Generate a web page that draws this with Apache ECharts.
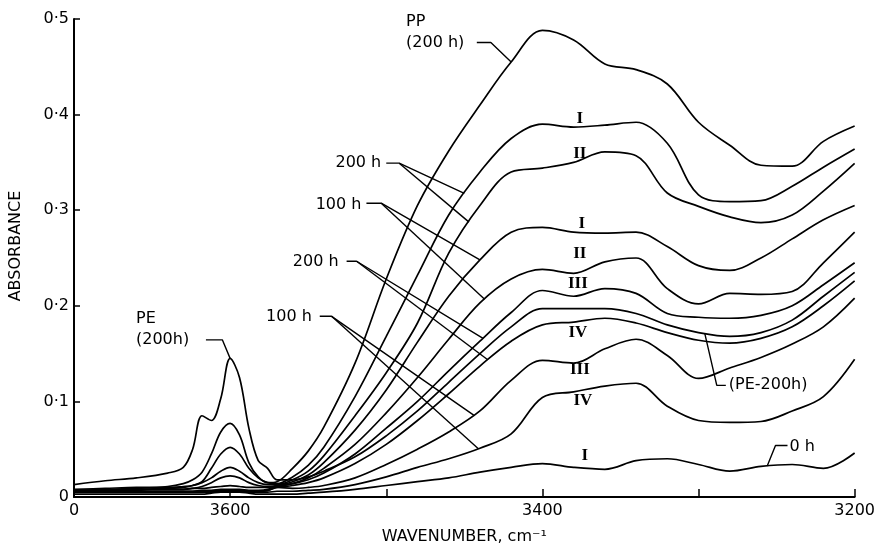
<!DOCTYPE html>
<html>
<head>
<meta charset="utf-8">
<script src="https://cdn.jsdelivr.net/npm/echarts@6/dist/echarts.min.js"></script>
<style>
  html, body { margin: 0; padding: 0; background: #fff; }
  #chart { width: 878px; height: 550px; }
</style>
</head>
<body>
<div id="chart"></div>
<script>
// Wavenumber sampling points (cm-1), shared by every spectrum
const wavenumbers = [3700, 3680, 3660, 3640, 3630, 3624, 3618, 3612, 3606, 3600, 3594, 3588, 3582, 3576, 3570, 3560, 3550, 3540, 3520, 3500, 3480, 3460, 3440, 3420, 3400, 3380, 3360, 3340, 3320, 3300, 3280, 3260, 3240, 3220, 3200];

// Absorbance of each spectrum at those wavenumbers
const pp200 = [0.007, 0.008, 0.009, 0.011, 0.014, 0.018, 0.026, 0.045, 0.068, 0.077, 0.065, 0.036, 0.021, 0.015, 0.016, 0.030, 0.048, 0.073, 0.140, 0.228, 0.305, 0.362, 0.410, 0.455, 0.488, 0.478, 0.453, 0.447, 0.432, 0.392, 0.368, 0.347, 0.346, 0.372, 0.388];
const run1at200 = [0.006, 0.007, 0.008, 0.009, 0.010, 0.012, 0.016, 0.030, 0.045, 0.052, 0.045, 0.030, 0.020, 0.015, 0.014, 0.021, 0.033, 0.052, 0.105, 0.168, 0.232, 0.295, 0.340, 0.375, 0.390, 0.387, 0.389, 0.392, 0.370, 0.316, 0.309, 0.310, 0.325, 0.345, 0.364];
const run2at200 = [0.008, 0.009, 0.010, 0.010, 0.011, 0.012, 0.015, 0.020, 0.027, 0.031, 0.027, 0.020, 0.015, 0.013, 0.013, 0.018, 0.027, 0.043, 0.085, 0.130, 0.182, 0.255, 0.305, 0.340, 0.344, 0.350, 0.361, 0.357, 0.318, 0.304, 0.293, 0.287, 0.295, 0.320, 0.349];
const run1at100 = [0.006, 0.006, 0.007, 0.008, 0.008, 0.009, 0.011, 0.015, 0.020, 0.022, 0.020, 0.015, 0.012, 0.011, 0.012, 0.016, 0.023, 0.036, 0.070, 0.112, 0.162, 0.210, 0.248, 0.277, 0.282, 0.277, 0.276, 0.277, 0.262, 0.242, 0.237, 0.250, 0.270, 0.290, 0.305];
const run2at100 = [0.007, 0.007, 0.008, 0.008, 0.008, 0.009, 0.009, 0.010, 0.011, 0.012, 0.011, 0.010, 0.010, 0.010, 0.011, 0.014, 0.020, 0.030, 0.055, 0.088, 0.125, 0.165, 0.203, 0.228, 0.238, 0.234, 0.246, 0.250, 0.218, 0.202, 0.213, 0.212, 0.215, 0.245, 0.277];
const run3at200 = [0.006, 0.006, 0.006, 0.006, 0.006, 0.006, 0.007, 0.007, 0.008, 0.008, 0.008, 0.007, 0.007, 0.008, 0.012, 0.014, 0.018, 0.025, 0.045, 0.072, 0.100, 0.132, 0.163, 0.193, 0.216, 0.210, 0.218, 0.213, 0.192, 0.188, 0.187, 0.190, 0.200, 0.222, 0.245];
const run4at200 = [0.005, 0.005, 0.005, 0.006, 0.006, 0.006, 0.006, 0.006, 0.007, 0.007, 0.007, 0.006, 0.006, 0.007, 0.010, 0.012, 0.015, 0.020, 0.035, 0.055, 0.080, 0.108, 0.137, 0.163, 0.180, 0.183, 0.187, 0.182, 0.172, 0.164, 0.161, 0.166, 0.178, 0.200, 0.226];
const run3at100 = [0.005, 0.005, 0.005, 0.005, 0.005, 0.005, 0.005, 0.006, 0.006, 0.006, 0.006, 0.006, 0.006, 0.007, 0.010, 0.009, 0.010, 0.012, 0.020, 0.034, 0.050, 0.068, 0.090, 0.122, 0.143, 0.140, 0.155, 0.165, 0.148, 0.124, 0.135, 0.146, 0.160, 0.178, 0.208];
const run4at100 = [0.005, 0.005, 0.005, 0.005, 0.005, 0.005, 0.005, 0.005, 0.005, 0.005, 0.005, 0.005, 0.005, 0.005, 0.006, 0.006, 0.007, 0.008, 0.013, 0.021, 0.031, 0.040, 0.051, 0.066, 0.104, 0.110, 0.116, 0.119, 0.095, 0.080, 0.078, 0.079, 0.090, 0.105, 0.144];
const pe200 = [0.013, 0.017, 0.020, 0.025, 0.031, 0.050, 0.085, 0.080, 0.103, 0.145, 0.125, 0.072, 0.038, 0.030, 0.018, 0.018, 0.021, 0.027, 0.042, 0.064, 0.090, 0.120, 0.150, 0.178, 0.197, 0.197, 0.197, 0.192, 0.180, 0.172, 0.168, 0.172, 0.185, 0.210, 0.235];
const run1at0 = [0.003, 0.003, 0.003, 0.003, 0.003, 0.003, 0.003, 0.004, 0.005, 0.005, 0.005, 0.004, 0.003, 0.003, 0.003, 0.003, 0.004, 0.005, 0.008, 0.012, 0.016, 0.020, 0.026, 0.031, 0.035, 0.031, 0.029, 0.038, 0.040, 0.034, 0.027, 0.032, 0.034, 0.030, 0.046];

// Axis tick text
const xTickText = { 3700: '0', 3600: '3600', 3400: '3400', 3200: '3200' };
const yTickText = v => (v === 0 ? '0' : v.toFixed(1).replace('.', '\u00b7'));

const spectra = [pp200, run1at200, run2at200, run1at100, run2at100, run3at200, run4at200, run3at100, run4at100, pe200, run1at0];

// Absorbance of a spectrum at any wavenumber (linear between samples), used to end leader lines on a curve
function valueAt(arr, w) {
  for (let i = 0; i < wavenumbers.length - 1; i++) {
    const a = wavenumbers[i], b = wavenumbers[i + 1];
    if (w <= a && w >= b) {
      const t = (a - w) / (a - b);
      return arr[i] + t * (arr[i + 1] - arr[i]);
    }
  }
  return arr[arr.length - 1];
}

const INK = '#000';
const SANS = 'DejaVu Sans';
const SERIF = 'Liberation Serif';

const curveSeries = spectra.map(arr => ({
  type: 'line',
  data: wavenumbers.map((w, i) => [w, arr[i]]),
  smooth: 0.35,
  showSymbol: false,
  silent: true,
  lineStyle: { color: INK, width: 1.7 },
  z: 3
}));

// Leader lines: [start, knee] then one or more curve targets
const leaders = [
  { from: [[3442, 0.4754], [3433, 0.4754]], to: [[pp200, 3420]] },
  { from: [[3615.5, 0.1644], [3605, 0.1644]], to: [[pe200, 3600]] },
  { from: [[3500, 0.3492], [3491.7, 0.3492]], to: [[run1at200, 3450], [run2at200, 3447]] },
  { from: [[3512.7, 0.3073], [3503.2, 0.3073]], to: [[run1at100, 3440], [run2at100, 3437]] },
  { from: [[3525.4, 0.2466], [3519, 0.2466]], to: [[run3at200, 3438], [run4at200, 3435]] },
  { from: [[3542.6, 0.189], [3535, 0.189]], to: [[run3at100, 3444], [run4at100, 3441]] },
  { from: [[3243, 0.0539], [3250.7, 0.0539]], to: [[run1at0, 3256]] },
  { from: [[3282.5, 0.1168], [3288.3, 0.1168]], to: [[pe200, 3296]] }
];

const leaderSeries = [];
leaders.forEach(ld => {
  ld.to.forEach((tg, k) => {
    const end = [tg[1], valueAt(tg[0], tg[1])];
    const pts = k === 0 ? [ld.from[0], ld.from[1], end] : [ld.from[1], end];
    leaderSeries.push({
      type: 'line', data: pts, smooth: false, showSymbol: false, silent: true,
      lineStyle: { color: INK, width: 1.4 }, z: 2
    });
  });
});

// Text annotations in data coordinates: [wavenumber, absorbance, text, anchor, font]
const notes = [
  [3487.3, 0.4864, 'PP\n(200 h)', 'left', 'sans'],
  [3660.3, 0.1754, 'PE\n(200h)', 'left', 'sans'],
  [3503.2, 0.3492, '200 h', 'right', 'sans'],
  [3515.9, 0.3052, '100 h', 'right', 'sans'],
  [3530.5, 0.2456, '200 h', 'right', 'sans'],
  [3547.7, 0.1880, '100 h', 'right', 'sans'],
  [3241.8, 0.0529, '0 h', 'left', 'sans'],
  [3280.6, 0.1168, '(PE-200h)', 'left', 'sans'],
  [3376.0, 0.3963, 'I', 'center', 'serif'],
  [3376.0, 0.3597, 'II', 'center', 'serif'],
  [3374.7, 0.2864, 'I', 'center', 'serif'],
  [3376.0, 0.2550, 'II', 'center', 'serif'],
  [3377.3, 0.2236, 'III', 'center', 'serif'],
  [3377.3, 0.1723, 'IV', 'center', 'serif'],
  [3376.0, 0.1335, 'III', 'center', 'serif'],
  [3374.1, 0.1010, 'IV', 'center', 'serif'],
  [3372.8, 0.0435, 'I', 'center', 'serif']
];

const noteSeries = {
  type: 'scatter',
  symbolSize: 0,
  silent: true,
  z: 5,
  itemStyle: { opacity: 1, color: INK },
  data: notes.map(n => ({
    value: [n[0], n[1]],
    label: {
      show: true,
      formatter: n[2],
      position: n[3] === 'left' ? 'right' : (n[3] === 'right' ? 'left' : 'inside'),
      distance: 0,
      align: n[3] === 'center' ? 'center' : n[3],
      color: INK,
      opacity: 1,
      fontFamily: n[4] === 'serif' ? SERIF : SANS,
      fontWeight: n[4] === 'serif' ? 'bold' : 'normal',
      fontSize: n[4] === 'serif' ? 17 : 16,
      lineHeight: 21
    }
  }))
};

const chart = echarts.init(document.getElementById('chart'), null, { renderer: 'canvas' });
chart.setOption({
  animation: false,
  backgroundColor: '#fff',
  grid: { left: 72, right: 21, top: 19, bottom: 53, containLabel: false },
  xAxis: {
    type: 'value',
    min: 3200, max: 3700, interval: 100,
    inverse: true,
    name: 'WAVENUMBER, cm\u207b\u00b9',
    nameLocation: 'middle',
    nameGap: 32,
    nameTextStyle: { fontFamily: SANS, fontSize: 16, color: INK },
    axisLine: { lineStyle: { color: INK, width: 2 } },
    axisTick: { inside: true, length: 8, lineStyle: { color: INK, width: 1.5 } },
    axisLabel: { formatter: v => xTickText[v] || '', fontFamily: SANS, fontSize: 16, color: INK, margin: 6 },
    splitLine: { show: false }
  },
  yAxis: {
    type: 'value',
    min: 0, max: 0.5, interval: 0.1,
    name: 'ABSORBANCE',
    nameLocation: 'middle',
    nameRotate: 90,
    nameGap: 50,
    nameTextStyle: { fontFamily: SANS, fontSize: 16, color: INK, padding: [0, 0, 0, 24] },
    axisLine: { show: true, lineStyle: { color: INK, width: 2 } },
    axisTick: { show: true, inside: true, length: 6, lineStyle: { color: INK, width: 1.5 } },
    axisLabel: { formatter: yTickText, fontFamily: SANS, fontSize: 16, color: INK, margin: 5 },
    splitLine: { show: false }
  },
  series: [...curveSeries, ...leaderSeries, noteSeries]
});
</script>
</body>
</html>
